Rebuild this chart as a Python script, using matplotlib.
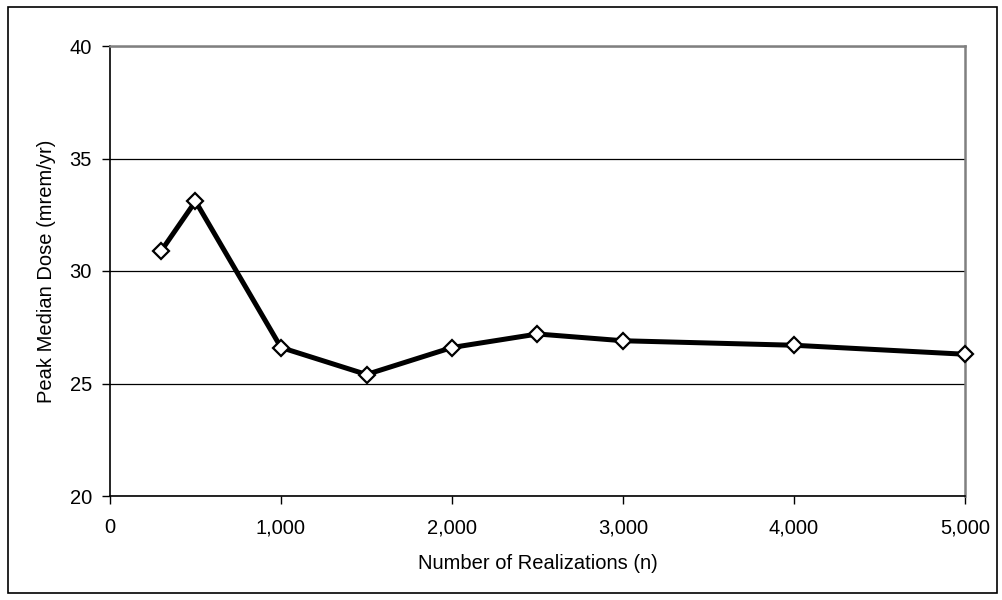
import matplotlib
matplotlib.use('Agg')
import matplotlib.pyplot as plt
from matplotlib.ticker import FuncFormatter
from matplotlib.patches import Rectangle

# data
realizations = [300, 500, 1000, 1500, 2000, 2500, 3000, 4000, 5000]
peak_dose = [30.9, 33.1, 26.6, 25.4, 26.6, 27.2, 26.9, 26.7, 26.3]
x_ticks = [0, 1000, 2000, 3000, 4000, 5000]
y_ticks = [20, 25, 30, 35, 40]

plt.rcParams['font.family'] = ['Liberation Sans', 'DejaVu Sans']

fig = plt.figure(figsize=(10.03, 6), dpi=100)
ax = fig.add_axes([110 / 1003, 104 / 600, 855 / 1003, 450 / 600])

ax.plot(realizations, peak_dose, color='black', linewidth=3.6,
        marker='D', markersize=8, markerfacecolor='white',
        markeredgecolor='black', markeredgewidth=1.6, zorder=3,
        clip_on=False)

ax.set_xlim(0, 5000)
ax.set_ylim(20, 40)
ax.set_xticks(x_ticks)
ax.set_yticks(y_ticks)
ax.xaxis.set_major_formatter(FuncFormatter(lambda v, p: f'{int(v):,}'))
ax.yaxis.grid(True, color='black', linewidth=0.9)
ax.set_axisbelow(True)

ax.tick_params(direction='out', length=6, width=1, labelsize=14.5, pad=7)
ax.tick_params(axis='x', pad=10)
for side in ('left', 'bottom'):
    ax.spines[side].set_color('black')
    ax.spines[side].set_linewidth(1.2)
for side in ('top', 'right'):
    ax.spines[side].set_color('#808080')
    ax.spines[side].set_linewidth(1.8)

ax.set_xlabel('Number of Realizations (n)', fontsize=14.5, labelpad=12)
ax.set_ylabel('Peak Median Dose (mrem/yr)', fontsize=14.5, labelpad=10)

# outer chart border
fig.patches.append(Rectangle((8 / 1003, 7 / 600), 989 / 1003, 586 / 600,
                             transform=fig.transFigure, fill=False,
                             edgecolor='black', linewidth=1.2))

fig.savefig('out.png', dpi=100, facecolor='white')
